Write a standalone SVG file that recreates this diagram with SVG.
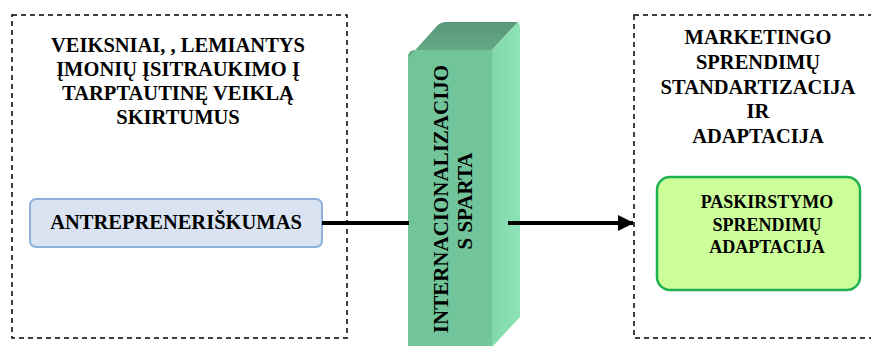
<svg xmlns="http://www.w3.org/2000/svg" width="871" height="346" viewBox="0 0 871 346">
<defs>
<style>
.dash{fill:none;stroke:#000;stroke-width:1.5;stroke-dasharray:5 4}
.t{font-family:"Liberation Serif","Times New Roman",serif;font-weight:bold;fill:#000;text-anchor:middle}
.t20{font-size:20.5px}
.t18{font-size:18px}
.conn{stroke:#000;stroke-width:4;fill:none}
</style>
<marker id="ah" viewBox="0 0 16 16" refX="15" refY="8" markerWidth="16" markerHeight="16" markerUnits="userSpaceOnUse" orient="auto">
<path d="M0,0 L16,8 L0,16 Z" fill="#000"/>
</marker>
<linearGradient id="gTop" x1="0" y1="0" x2="0" y2="1">
<stop offset="0" stop-color="#5a987a"/>
<stop offset="1" stop-color="#66ad88"/>
</linearGradient>
<linearGradient id="gRight" x1="0" y1="0" x2="1" y2="0">
<stop offset="0" stop-color="#80d8ab"/>
<stop offset="1" stop-color="#8ce3b7"/>
</linearGradient>
</defs>

<g id="left-box">
<rect class="dash" x="12" y="15" width="335" height="323"/>
<text class="t t20"><tspan x="178" y="52">VEIKSNIAI, , LEMIANTYS</tspan><tspan x="178" y="76">ĮMONIŲ ĮSITRAUKIMO Į</tspan><tspan x="178" y="100">TARPTAUTINĘ VEIKLĄ</tspan><tspan x="178" y="124">SKIRTUMUS</tspan></text>
</g>

<g id="antrepreneriskumas">
<rect x="30" y="199" width="292" height="48" rx="6" fill="#dae3f1" stroke="#8db1df" stroke-width="2"/>
<text class="t t20" x="176" y="229">ANTREPRENERIŠKUMAS</text>
</g>

<g id="right-box">
<rect class="dash" x="634" y="15" width="260" height="323"/>
<text class="t t20"><tspan x="758" y="44">MARKETINGO</tspan><tspan x="758" y="69">SPRENDIMŲ</tspan><tspan x="758" y="94">STANDARTIZACIJA</tspan><tspan x="758" y="118">IR</tspan><tspan x="758" y="143">ADAPTACIJA</tspan></text>
</g>

<g id="paskirstymo">
<rect x="657" y="177" width="203" height="113" rx="13" fill="#ccff99" stroke="#1fb14f" stroke-width="2.5"/>
<text class="t t18"><tspan x="767" y="208">PASKIRSTYMO</tspan><tspan x="767" y="231">SPRENDIMŲ</tspan><tspan x="767" y="253">ADAPTACIJA</tspan></text>
</g>

<g id="internacionalizacijos-sparta">
<path d="M408,58 Q408,50 416,50 L492,50 L492,346 L408,346 Z" fill="#72c59b"/>
<path d="M408,58 Q408,50 416,50 L492,50 L518,22 L446,22 Q440,22 436,27 Z" fill="url(#gTop)"/>
<path d="M492,50 L518,22 Q520,24 520,30 L520,317 L493,346 L492,346 Z" fill="url(#gRight)"/>
<text class="t" font-size="21" transform="translate(448,199) rotate(-90)" x="0" y="0">INTERNACIONALIZACIJO</text>
<text class="t" font-size="21" transform="translate(472,201) rotate(-90)" x="0" y="0">S SPARTA</text>
</g>

<g id="connectors">
<line class="conn" x1="322" y1="223" x2="409" y2="223"/>
<line class="conn" x1="508" y1="223" x2="633" y2="223" marker-end="url(#ah)"/>
</g>
</svg>
